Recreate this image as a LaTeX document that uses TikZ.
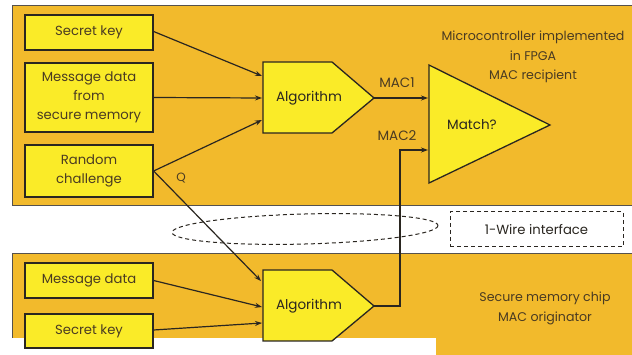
\documentclass[tikz,border=0pt]{standalone}
\usepackage{fontspec}
\setmainfont{Poppins}
\usetikzlibrary{arrows.meta,shapes.geometric}
\definecolor{panel}{HTML}{F2BA2C}
\definecolor{boxfill}{HTML}{FAEB28}
\definecolor{ink}{HTML}{2A2620}
\definecolor{txt}{HTML}{4A3B22}
\tikzset{
  panelbox/.style={fill=panel,draw=ink!80,line width=0.8pt},
  inbox/.style={draw=ink,fill=boxfill,line width=1.3pt,minimum width=128pt,align=center,
    font=\fontsize{13.2}{19}\selectfont,text=txt,inner sep=1pt},
  shapeline/.style={draw=ink,fill=boxfill,line width=1.3pt,line join=miter},
  conn/.style={draw=ink,line width=1.2pt,-{Stealth[length=7pt,width=5pt]}},
  lbl/.style={font=\fontsize{13.5}{15}\selectfont,text=txt,inner sep=0pt},
  note/.style={font=\fontsize{12.6}{19.5}\selectfont,text=txt,align=center,inner sep=0pt},
  dashline/.style={draw=ink,line width=1pt,dash pattern=on 4pt off 3pt}
}
\begin{document}
\begin{tikzpicture}[x=1pt,y=-1pt]
\useasboundingbox (0,0) rectangle (632,355);
\fill[white] (0,0) rectangle (632,355);
% panels
\draw[panelbox] (12,5) rectangle (640,205);
\draw[panelbox] (12,253) rectangle (640,360);
\fill[white] (0,338) rectangle (436,360);
% top inputs
\node[inbox,minimum height=35pt] (sk1) at (89,32.5) {Secret key};
\node[inbox,minimum height=69pt] (md1) at (89,97.5) {Message data\\from\\secure memory};
\node[inbox,minimum height=52pt] (rc) at (89,171) {Random\\challenge};
% top algorithm
\draw[shapeline] (263,62) -- (332,62) -- (374,98) -- (332,133) -- (263,133) -- cycle;
\node[lbl,text=ink] (alg1) at (309,98) {Algorithm};
\coordinate (a1i1) at (262,76);
\coordinate (a1i2) at (262,98);
\coordinate (a1i3) at (262,120);
\coordinate (a1o) at (374,98);
% match triangle
\draw[shapeline] (429,65) -- (550,125) -- (429,183) -- cycle;
\node[lbl,text=ink] (match) at (472,125) {Match?};
\coordinate (m1) at (428,98);
\coordinate (m2) at (428,150);
\coordinate (mc) at (400,150);
% bottom inputs
\node[inbox,minimum height=35pt] (md2) at (89,280.5) {Message data};
\node[inbox,minimum height=34pt] (sk2) at (89,331) {Secret key};
% bottom algorithm
\draw[shapeline] (263,270) -- (332,270) -- (374,306) -- (332,341) -- (263,341) -- cycle;
\node[lbl,text=ink] (alg2) at (309,306) {Algorithm};
\coordinate (a2i0) at (261,281);
\coordinate (a2i1) at (262,307);
\coordinate (a2i2) at (262,323);
\coordinate (a2o) at (374,306);
\coordinate (a2c) at (400,306);
% connectors
\draw[conn] (sk1.east) ++(0,-1) -- (a1i1);
\draw[conn] (md1.east) -- (a1i2);
\draw[conn] (rc.east) -- (a1i3);
\draw[conn] (rc.east) -- (a2i0);
\draw[conn] (a1o) -- (m1);
\draw[conn] (a2o) -- (a2c) -- (mc) -- (m2);
\draw[conn] (md2.east) -- (a2i1);
\draw[conn] ([yshift=1pt]sk2.east) -- (a2i2);
% labels
\node[lbl,font=\fontsize{12}{14}\selectfont] (q) at (181,178) {Q};
\node[lbl] (mac1) at (397,83) {MAC1};
\node[lbl] (mac2) at (397,136) {MAC2};
\node[note] (ucnote) at (533,57) {Microcontroller implemented\\in FPGA\\MAC recipient};
\node[note,font=\fontsize{12.6}{20}\selectfont] (smnote) at (545,308) {Secure memory chip\\MAC originator};
% 1-wire interface
\draw[dashline,rotate around={1.5:(305,229)}] (305,229) ellipse [x radius=133, y radius=15];
\node[dashline,minimum width=173pt,minimum height=35pt,font=\fontsize{13.2}{15}\selectfont,text=ink] (wire) at (536.5,229.5) {1-Wire interface};
\end{tikzpicture}
\end{document}
